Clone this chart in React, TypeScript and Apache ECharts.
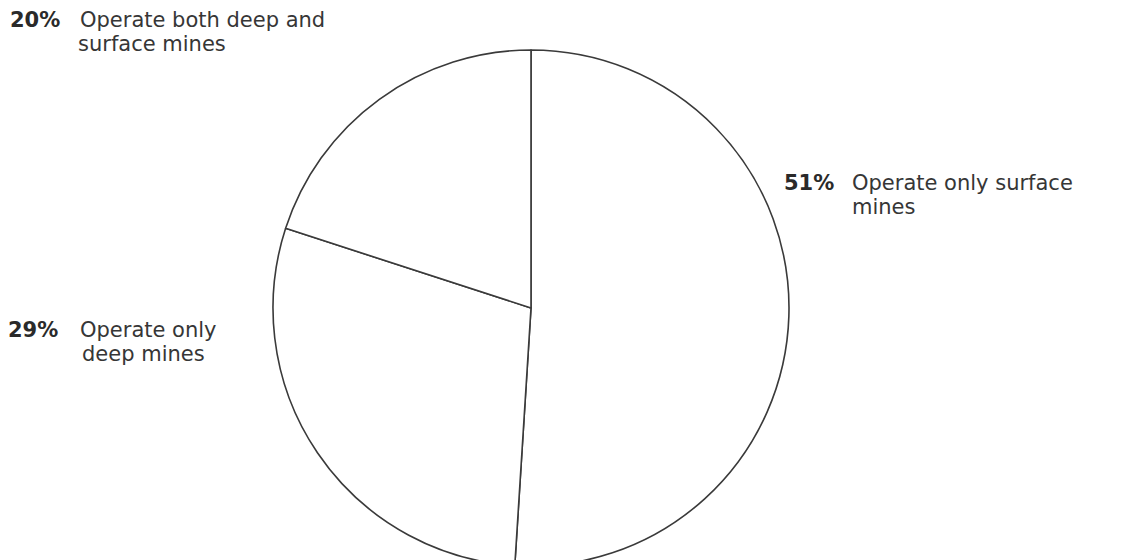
import React, { useEffect, useRef } from "react";
import * as echarts from "echarts";

const categories = ["Operate only surface mines", "Operate only deep mines", "Operate both deep and surface mines"];
const values = [51, 29, 20];
const line1 = ["Operate only surface", "Operate only", "Operate both deep and"];
const line2 = ["mines", "deep mines", "surface mines"];

const labelPos = [
  { x: 784, y: 195, pw: 68, indent: 68 },
  { x: 8, y: 342, pw: 72, indent: 74 },
  { x: 10, y: 32, pw: 70, indent: 68 },
];

export default function App() {
  const ref = useRef<HTMLDivElement>(null);
  useEffect(() => {
    const chart = echarts.init(ref.current!, null, { renderer: "svg" });
    const font = "DejaVu Sans";
    const fs = 21;
    const rich: any = {
      t: { fontFamily: font, fontSize: fs, color: "#363636", lineHeight: 24 },
    };
    labelPos.forEach((lp, i) => {
      rich["p" + i] = { fontFamily: font, fontSize: fs, fontWeight: "bold", color: "#2a2a2a", lineHeight: 24, width: lp.pw };
      rich["i" + i] = { fontFamily: font, fontSize: fs, color: "#363636", lineHeight: 24, padding: [0, 0, 0, lp.indent] };
    });
    chart.setOption({
      animation: false,
      backgroundColor: "#ffffff",
      series: [
        {
          type: "pie",
          center: [531, 308],
          radius: 258,
          startAngle: 90,
          clockwise: true,
          silent: true,
          data: categories.map((c, i) => ({ name: c, value: values[i] })),
          itemStyle: { color: "#ffffff", borderColor: "#3a3a3a", borderWidth: 1.6 },
          emphasis: { disabled: true },
          labelLine: { show: false },
          label: {
            show: true,
            position: "outside",
            overflow: "none",
            width: 400,
            formatter: (p: any) =>
              `{p${p.dataIndex}|${values[p.dataIndex]}%}{t|${line1[p.dataIndex]}}\n{i${p.dataIndex}|${line2[p.dataIndex]}}`,
            rich,
          },
          labelLayout: (params: any) => ({
            x: labelPos[params.dataIndex].x,
            y: labelPos[params.dataIndex].y,
            align: "left",
            verticalAlign: "middle",
            hideOverlap: false,
          }),
        },
      ],
    });
    return () => chart.dispose();
  }, []);
  return (
    <div
      ref={ref}
      style={{ position: "fixed", left: 0, top: 0, width: 1136, height: 560 }}
    />
  );
}
